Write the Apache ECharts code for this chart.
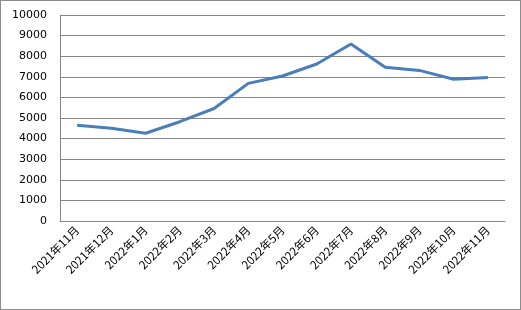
<!DOCTYPE html>
<html><head><meta charset="utf-8">
<script src="https://cdn.jsdelivr.net/npm/echarts@6/dist/echarts.min.js"></script>
<style>html,body{margin:0;padding:0;background:#fff}#c{width:521px;height:310px;box-sizing:border-box;border:1px solid #8c8c8c}</style>
</head><body><div id="c"></div>
<script>
const categories = ['2021年11月','2021年12月','2022年1月','2022年2月','2022年3月','2022年4月','2022年5月','2022年6月','2022年7月','2022年8月','2022年9月','2022年10月','2022年11月'];
const values = [4650, 4500, 4260, 4820, 5460, 6680, 7040, 7620, 8590, 7460, 7310, 6880, 6970];
const yTicks = {min: 0, max: 10000, interval: 1000};

const chart = echarts.init(document.getElementById('c'), null, {renderer: 'canvas'});
chart.setOption({
  animation: false,
  grid: {left: 59, right: 15, top: 14, bottom: 88},
  xAxis: {
    type: 'category', data: categories, boundaryGap: true,
    axisLine: {lineStyle: {color: '#868686', width: 1}},
    axisTick: {show: false},
    axisLabel: {rotate: 45, color: '#000', fontSize: 11.5, fontFamily: 'Noto Sans CJK SC', margin: 7, interval: 0}
  },
  yAxis: {
    type: 'value', min: yTicks.min, max: yTicks.max, interval: yTicks.interval,
    axisLine: {show: true, lineStyle: {color: '#868686', width: 1}},
    axisTick: {show: false},
    splitLine: {lineStyle: {color: '#868686', width: 1}},
    axisLabel: {color: '#000', fontSize: 11, fontFamily: 'DejaVu Sans', margin: 13, formatter: v => String(v)}
  },
  series: [{
    type: 'line', data: values, symbol: 'none',
    lineStyle: {color: '#4a7ebb', width: 3}
  }]
});
</script></body></html>
